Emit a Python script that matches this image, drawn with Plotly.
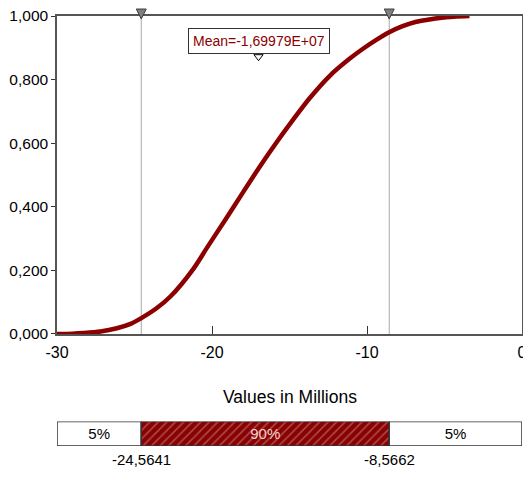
import plotly.graph_objects as go

# Cumulative curve (values in millions)
curve_x = [-30.0, -29.0, -28.3, -27.2, -26.14, -25.3, -24.56, -23.6, -22.7, -21.2, -20.34, -19.16,
           -17.98, -16.91, -15.83, -14.98, -13.69, -12.4, -11.11, -10.26, -9.4, -8.57, -7.7,
           -6.82, -6.0, -5.32, -4.4, -3.39]
curve_y = [0.0, 0.001, 0.003, 0.008, 0.018, 0.031, 0.05, 0.08, 0.117, 0.205, 0.27, 0.358,
           0.447, 0.527, 0.603, 0.66, 0.742, 0.812, 0.866, 0.897, 0.925, 0.949, 0.968,
           0.982, 0.989, 0.994, 0.998, 1.0]

lower_5 = -24.5641
upper_95 = -8.5662
mean_val = -16.9979
mean_text = "Mean=-1,69979E+07"

y_tickvals = [0.0, 0.2, 0.4, 0.6, 0.8, 1.0]
y_ticktext = ["0,000", "0,200", "0,400", "0,600", "0,800", "1,000"]
x_tickvals = [-30, -20, -10, 0]
x_ticktext = ["-30", "-20", "-10", "0"]

band_starts = [-30.0, lower_5, upper_95]
band_ends = [lower_5, upper_95, 0.0]
band_labels = ["5%", "90%", "5%"]
bound_labels = ["-24,5641", "-8,5662"]

FONT = "Liberation Sans Narrow, Arial Narrow, Liberation Sans, Arial, sans-serif"
RED = "#8b0000"

fig = go.Figure()

# percentile lines
for v in [lower_5, upper_95]:
    fig.add_trace(go.Scatter(x=[v, v], y=[0, 1], mode="lines",
                             line=dict(color="#a8a8a8", width=1), hoverinfo="skip",
                             showlegend=False, xaxis="x", yaxis="y"))

fig.add_trace(go.Scatter(x=curve_x, y=curve_y, mode="lines",
                         line=dict(color=RED, width=4.5, shape="spline", smoothing=0.8),
                         showlegend=False, xaxis="x", yaxis="y"))

# mean marker
fig.add_trace(go.Scatter(x=[mean_val], y=[0.872], mode="markers",
                         marker=dict(symbol="triangle-down", size=8, color="white",
                                     line=dict(color="black", width=1)),
                         showlegend=False, xaxis="x", yaxis="y"))

# bottom band
for i in range(3):
    mid = i == 1
    fig.add_trace(go.Bar(
        x=[band_ends[i] - band_starts[i]], base=[band_starts[i]], y=[0], orientation="h",
        width=1,
        marker=dict(color=RED if mid else "white",
                    line=dict(color="#333333", width=1.5),
                    pattern=dict(shape="/" if mid else "", fgcolor="#c8a0a0", size=6, solidity=0.25)),
        text=[band_labels[i]], textposition="inside", insidetextanchor="middle",
        textfont=dict(family=FONT, size=15, color="#f0d0d0" if mid else "black"),
        showlegend=False, xaxis="x2", yaxis="y2", hoverinfo="skip"))

# top triangles at percentile lines (drawn as small paths over the frame)
PX = 1.0 / 430.0          # one pixel in paper units (vertical)
HALF_W = 5.0 / 15.53      # half triangle width in data units
for v in [lower_5, upper_95]:
    path = (f"M {v - HALF_W} {1 + 7 * PX} L {v + HALF_W} {1 + 7 * PX} "
            f"L {v} {1 - 3 * PX} Z")
    fig.add_shape(type="path", path=path, xref="x", yref="paper",
                  fillcolor="#7f7f7f", line=dict(color="#404040", width=1))

fig.add_annotation(x=mean_val + 0.06, y=0.92, xref="x", yref="y", text=mean_text, showarrow=False,
                   font=dict(family=FONT, size=14, color=RED), bordercolor="#333333",
                   borderwidth=1, borderpad=4, bgcolor="white")

for v, t in zip([lower_5, upper_95], bound_labels):
    fig.add_annotation(x=v, y=-0.5, xref="x2", yref="y2", text=t, showarrow=False,
                       yanchor="top", yshift=-3, font=dict(family=FONT, size=15, color="black"))

fig.add_annotation(x=-15, y=0.5, xref="x2", yref="y2", text="Values in Millions", showarrow=False,
                   yanchor="bottom", yshift=12, font=dict(family=FONT, size=17.5, color="black"))

# the page body adds an 8px offset, so the figure is sized to end at the window edges
fig.update_layout(
    width=523, height=473,
    margin=dict(l=49, r=8.5, t=8, b=35),
    paper_bgcolor="white", plot_bgcolor="white",
    barmode="overlay",
    font=dict(family=FONT, color="black"),
    xaxis=dict(range=[-30, 0], domain=[0, 1], tickvals=x_tickvals, ticktext=x_ticktext,
               ticks="inside", ticklen=8, tickcolor="#333333", showgrid=False, zeroline=False,
               showline=True, linecolor="#555555", linewidth=1.5, mirror=True, automargin=False,
               ticklabeloverflow="allow", ticklabelstandoff=3,
               tickfont=dict(family=FONT, size=16), anchor="y"),
    yaxis=dict(range=[0, 1], domain=[0.2605, 1], tickvals=y_tickvals, ticktext=y_ticktext,
               ticks="outside", ticklen=4, tickcolor="#333333", showgrid=False, zeroline=False,
               showline=True, linecolor="#555555", linewidth=1.5, mirror=True, automargin=False,
               ticklabeloverflow="allow", ticklabelstandoff=0,
               tickfont=dict(family=FONT, size=15.5), anchor="x"),
    xaxis2=dict(range=[-30, 0], domain=[0, 1], anchor="y2", showticklabels=False, automargin=False,
                showgrid=False, zeroline=False, showline=False, ticks=""),
    yaxis2=dict(range=[-0.5, 0.5], domain=[0, 0.057], anchor="x2", showticklabels=False,
                automargin=False, showgrid=False, zeroline=False, showline=False, ticks=""),
)

fig.write_html("out.html")
